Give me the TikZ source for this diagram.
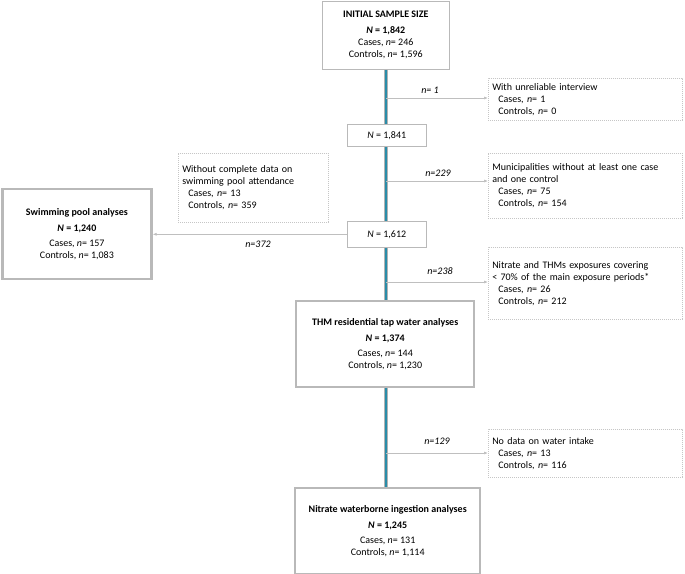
\documentclass[tikz,border=0pt]{standalone}
\usepackage{fontspec}
\setmainfont{Carlito}
\usetikzlibrary{arrows.meta}
\definecolor{spine}{HTML}{2A8CA8}
\begin{document}
\begin{tikzpicture}[x=1pt,y=-1pt,
  every node/.style={font=\fontsize{10}{12}\selectfont},
  box/.style={draw=gray!55,line width=0.6pt,fill=white,inner sep=0pt},
  thick box/.style={draw=gray!55,line width=2.4pt,fill=white,inner sep=0pt},
  dbox/.style={draw=gray!45,dashed,dash pattern=on 1.2pt off 0.8pt,line width=0.5pt,fill=white,inner sep=0pt},
  arr/.style={draw=gray!50,line width=0.7pt,-{Latex[length=4pt,width=3pt]}},
  lab/.style={font=\fontsize{10}{12}\selectfont\itshape}]
\useasboundingbox (0,0) rectangle (685,573);
% main spine
\coordinate (top) at (386,68);
\coordinate (bot) at (386,487);
\draw[gray!60,line width=3.6pt] (top) -- (bot);
\draw[spine,line width=2.6pt] (top) -- (bot);
% boxes
\node[box,minimum width=127,minimum height=68,anchor=north west,align=center] (init) at (322,1)
 {\textbf{INITIAL SAMPLE SIZE}\\[4pt]\textbf{\textit{N} = 1,842}\\Cases, \textit{n}= 246\\Controls, \textit{n}= 1,596};
\node[box,minimum width=79,minimum height=22,anchor=north west] (n1) at (347,124) {\textit{N} = 1,841};
\node[box,minimum width=79,minimum height=26,anchor=north west] (n2) at (347,221) {\textit{N} = 1,612};
\node[thick box,minimum width=178,minimum height=86,anchor=north west,align=center] (thm) at (295,300)
 {\textbf{THM residential tap water analyses}\\[4pt]\textbf{\textit{N} = 1,374}\\[3pt]Cases, \textit{n}= 144\\Controls, \textit{n}= 1,230};
\node[thick box,minimum width=185,minimum height=86,anchor=north west,align=center] (nit) at (294,487)
 {\textbf{Nitrate waterborne ingestion analyses}\\[4pt]\textbf{\textit{N} = 1,245}\\[3pt]Cases, \textit{n}= 131\\Controls, \textit{n}= 1,114};
\node[thick box,minimum width=149,minimum height=90,anchor=north west,align=center] (swim) at (1.2,188)
 {\textbf{Swimming pool analyses}\\[4pt]\textbf{\textit{N} = 1,240}\\[3pt]Cases, \textit{n}= 157\\Controls, \textit{n}= 1,083};
% exclusion boxes
\node[dbox,minimum width=194,minimum height=42,anchor=north west,align=left,text width=190] (e1) at (488,78)
 {\hspace*{2pt}With unreliable interview\\\hspace*{8pt}Cases, \textit{n}= 1\\\hspace*{8pt}Controls, \textit{n}= 0};
\node[dbox,minimum width=194,minimum height=65,anchor=north west,align=left,text width=190] (e2) at (488,153)
 {\hspace*{2pt}Municipalities without at least one case\\\hspace*{2pt}and one control\\\hspace*{8pt}Cases, \textit{n}= 75\\\hspace*{8pt}Controls, \textit{n}= 154};
\node[dbox,minimum width=194,minimum height=72,anchor=north west,align=left,text width=190] (e3) at (488,247)
 {\hspace*{2pt}Nitrate and THMs exposures covering\\\hspace*{2pt}< 70\% of the main exposure periods*\\\hspace*{8pt}Cases, \textit{n}= 26\\\hspace*{8pt}Controls, \textit{n}= 212};
\node[dbox,minimum width=194,minimum height=48,anchor=north west,align=left,text width=190] (e4) at (488,429)
 {\hspace*{2pt}No data on water intake\\\hspace*{8pt}Cases, \textit{n}= 13\\\hspace*{8pt}Controls, \textit{n}= 116};
\node[dbox,minimum width=150,minimum height=69,anchor=north west,align=left,text width=146] (e5) at (178,153)
 {\hspace*{2pt}Without complete data on\\\hspace*{2pt}swimming pool attendance\\\hspace*{8pt}Cases, \textit{n}= 13\\\hspace*{8pt}Controls, \textit{n}= 359};
% branch points
\coordinate (b1) at (386,98);
\coordinate (b2) at (386,181);
\coordinate (b3) at (386,282);
\coordinate (b4) at (386,453);
\draw[arr] (b1) -- (e1.west |- b1);
\draw[arr] (b2) -- (e2.west |- b2);
\draw[arr] (b3) -- (e3.west |- b3);
\draw[arr] (b4) -- (e4.west |- b4);
\draw[arr] (n2.west) -- (swim.east |- n2.west);
\node[lab] at (430,90) {n= 1};
\node[lab] at (438,173) {n=229};
\node[lab] at (440,271) {n=238};
\node[lab] at (437,441) {n=129};
\node[lab] at (258,244) {n=372};
\end{tikzpicture}
\end{document}
